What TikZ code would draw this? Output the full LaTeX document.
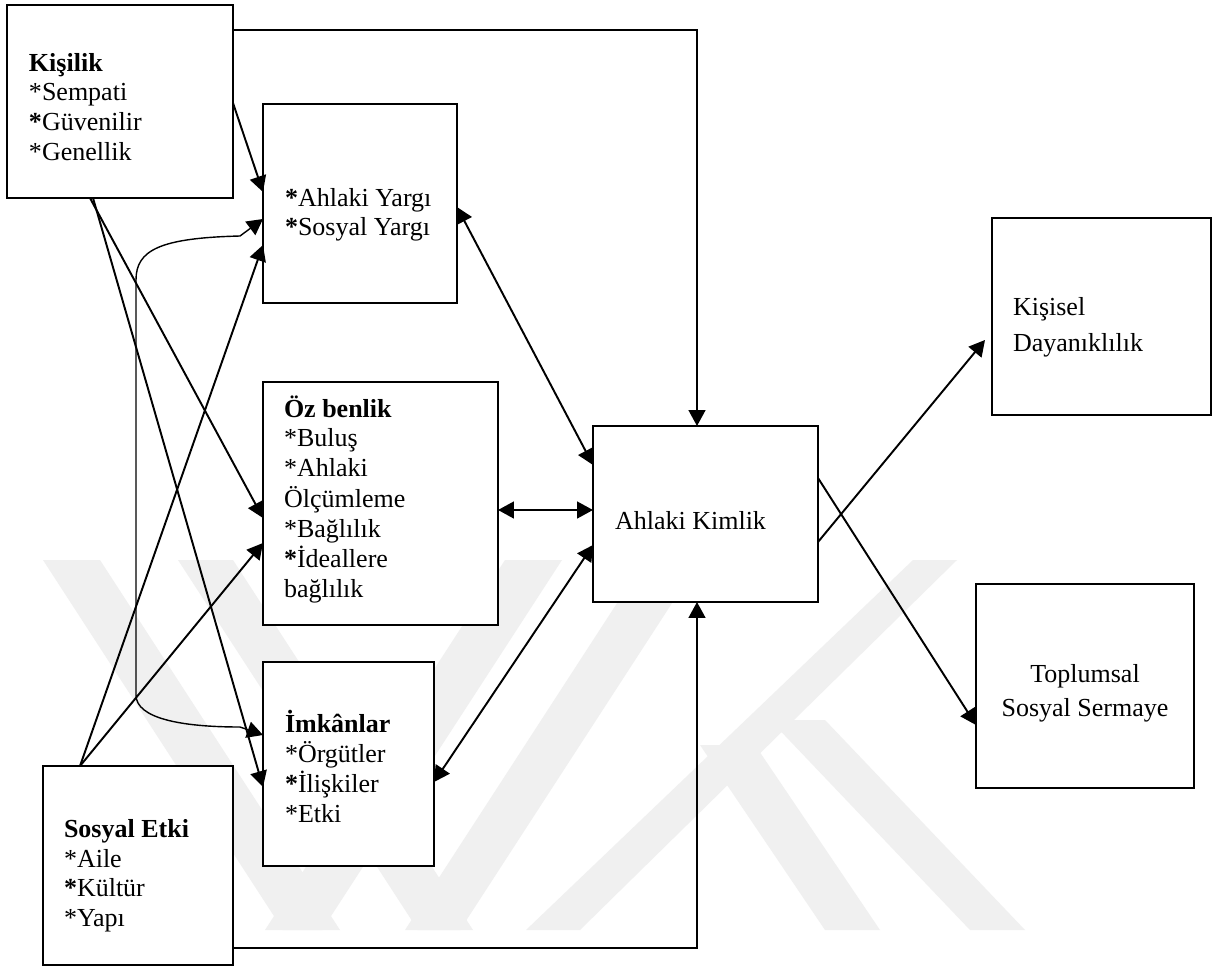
\documentclass[tikz,border=0pt]{standalone}
\usepackage{fontspec}
\setmainfont{Liberation Serif}
\usetikzlibrary{arrows.meta,calc}

\begin{document}
\begin{tikzpicture}[x=0.02cm,y=-0.02cm,
  box/.style={draw,line width=1pt,fill=white,inner sep=0pt,outer sep=0pt},
  boxwh/.style 2 args={minimum width=#1*0.02cm,minimum height=#2*0.02cm},
  txt/.style={inner sep=0pt,outer sep=0pt,font=\fontsize{14.8}{17.07}\selectfont},
  arr/.style={line width=1.1pt,-{Triangle[length=9pt,width=9.5pt]}},
  dbl/.style={line width=1.1pt,{Triangle[length=9pt,width=9.5pt]}-{Triangle[length=9pt,width=9.5pt]}},
  band/.style={fill=black!6,draw=none}]

\useasboundingbox (0,0) rectangle (1220,970);
\fill[white] (0,0) rectangle (1220,970);

% faint emblem in the background
\fill[band] (43,560) -- (100,560) -- (340,930) -- (283,930) -- cycle;
\fill[band] (178,560) -- (233,560) -- (473,930) -- (418,930) -- cycle;
\fill[band] (265,930) -- (322,930) -- (562,560) -- (505,560) -- cycle;
\fill[band] (405,930) -- (460,930) -- (700,560) -- (645,560) -- cycle;
\fill[band] (526,930) -- (580,930) -- (957,560) -- (913,560) -- cycle;
\fill[band] (700,745) -- (755,745) -- (880,930) -- (825,930) -- cycle;
\fill[band] (770,720) -- (825,720) -- (1025,930) -- (970,930) -- cycle;

% boxes
\node[box,boxwh={226}{193}] (kis) at (120,101.5) {};
\node[box,boxwh={194}{199}] (ky)  at (360,203.5) {};
\node[box,boxwh={235}{243}] (oz)  at (380.5,503.5) {};
\node[box,boxwh={171}{204}] (imk) at (348.5,764) {};
\node[box,boxwh={190}{199}] (se)  at (138,865.5) {};
\node[box,boxwh={225}{176}] (ak)  at (705.5,514) {};
\node[box,boxwh={219}{197}] (kd)  at (1101.5,316.5) {};
\node[box,boxwh={218}{204}] (tss) at (1085,686) {};

% box texts
\node[txt,anchor=base west] (kis-t) at (29,71)
  {\begin{tabular}[t]{@{}l@{}}\textbf{Kişilik}\\{*}Sempati\\\textbf{*}Güvenilir\\{*}Genellik\end{tabular}};
\node[txt,anchor=base west] (ky-t) at (285,206)
  {\begin{tabular}[t]{@{}l@{}}\textbf{*}Ahlaki Yargı\\\textbf{*}Sosyal Yargı\end{tabular}};
\node[txt,anchor=base west] (oz-t) at (284,417)
  {\begin{tabular}[t]{@{}l@{}}\textbf{Öz benlik}\\{*}Buluş\\{*}Ahlaki\\Ölçümleme\\{*}Bağlılık\\\textbf{*}İdeallere\\bağlılık\end{tabular}};
\node[txt,anchor=base west] (imk-t) at (285,732)
  {\begin{tabular}[t]{@{}l@{}}\textbf{İmkânlar}\\{*}Örgütler\\\textbf{*}İlişkiler\\{*}Etki\end{tabular}};
\node[txt,anchor=base west] (se-t) at (64,837)
  {\begin{tabular}[t]{@{}l@{}}\textbf{Sosyal Etki}\\{*}Aile\\\textbf{*}Kültür\\{*}Yapı\end{tabular}};
\node[txt,anchor=base west] (ak-t) at (615,529) {Ahlaki Kimlik};
\node[txt,anchor=base west,font=\fontsize{14.8}{20.5}\selectfont] (kd-t) at (1013,315)
  {\begin{tabular}[t]{@{}l@{}}Kişisel\\Dayanıklılık\end{tabular}};
\node[txt,anchor=base,font=\fontsize{14.8}{19.9}\selectfont] (tss-t) at (1085,682)
  {\begin{tabular}[t]{@{}c@{}}Toplumsal\\Sosyal Sermaye\end{tabular}};

% connectors
\draw[arr] ($(kis.north east)+(0,25)$) -| ($(ak.north west)+(104,0)$);
\draw[arr] ($(kis.north east)+(0,98)$) -- ($(ky.north west)+(0,88)$);
\draw[arr] ($(kis.south west)+(83,0)$) -- ($(oz.north west)+(0,136)$);
\draw[arr] ($(kis.south west)+(86,0)$) -- ($(imk.north west)+(0,125)$);
\draw[arr] ($(se.north west)+(37,0)$) -- ($(ky.north west)+(0,141)$);
\draw[arr] ($(se.north west)+(37,0)$) -- ($(oz.north west)+(0,161)$);

\coordinate (cA) at (240,236);
\coordinate (cB) at (136,280);
\coordinate (cC) at (136,695);
\coordinate (cD) at (240,727);
\draw[line width=0.8pt,{Triangle[length=9pt,width=9.5pt]}-{Triangle[length=9pt,width=9.5pt]}]
  ($(ky.north west)+(0,115)$) -- (cA)
  .. controls (160,238) and (136,250) .. (cB) -- (cC)
  .. controls (136,718) and (180,727) .. (cD)
  -- ($(imk.north west)+(0,73)$);

\draw[dbl] ($(ky.north east)+(0,103)$) -- ($(ak.north west)+(0,39)$);
\draw[dbl] ($(oz.north east)+(0,128)$) -- ($(ak.north west)+(0,84)$);
\draw[dbl] ($(imk.north east)+(0,120)$) -- ($(ak.north west)+(0,119)$);
\draw[arr] ($(se.north east)+(0,182)$) -| ($(ak.south west)+(104,0)$);
\draw[arr] ($(ak.north east)+(0,116)$) -- ($(kd.north west)+(-7,122)$);
\draw[arr] ($(ak.north east)+(0,52)$) -- ($(tss.north west)+(0,141)$);
\end{tikzpicture}
\end{document}
